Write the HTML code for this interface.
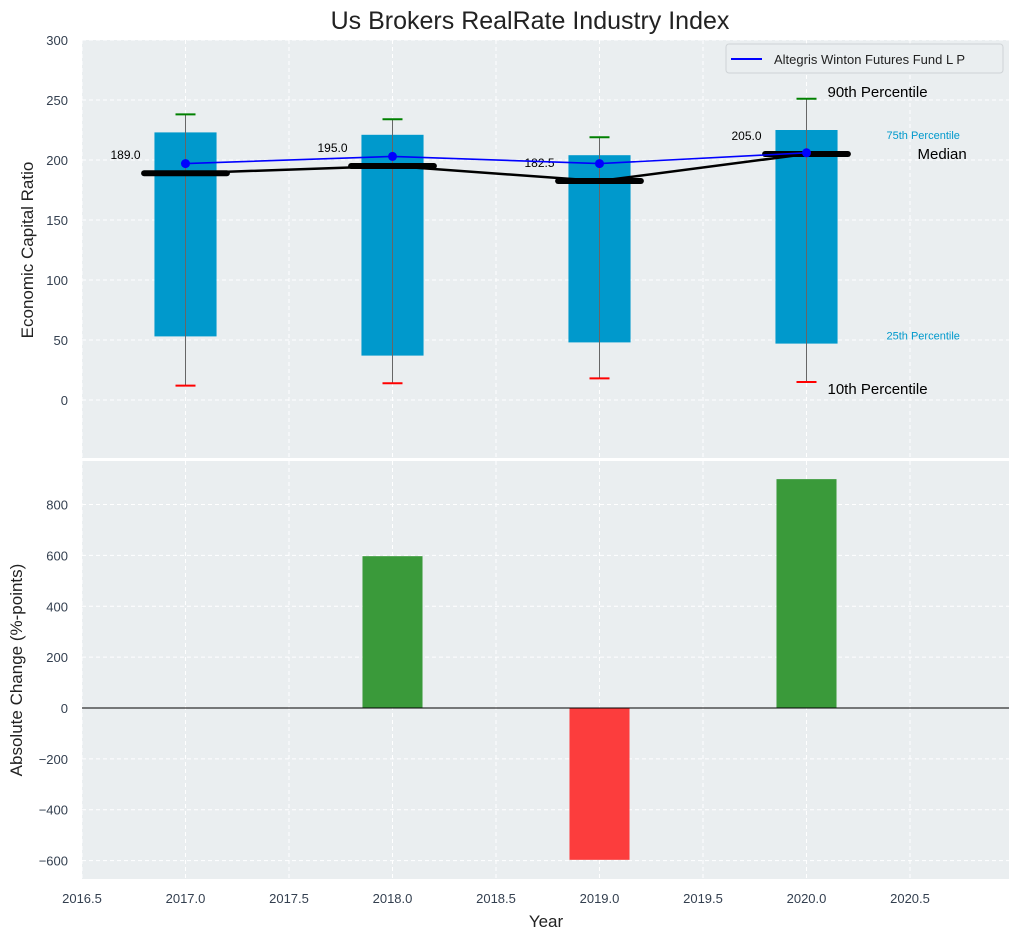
<!DOCTYPE html>
<html><head><meta charset="utf-8"><style>
html,body{margin:0;padding:0;background:#fff;}
svg{display:block;font-family:"Liberation Sans","DejaVu Sans",sans-serif;}
</style></head><body>
<svg id="c" width="1021" height="940" xmlns="http://www.w3.org/2000/svg"></svg>
<script>
const years=[2017,2018,2019,2020];
const p10=[12,14,18,15];
const p25=[53,37,48,47];
const median=[189,195,182.5,205];
const p75=[223,221,204,225];
const p90=[238,234,219,251];
const fund=[197,203,197,206];
const change=[0,597,-597,900];
const xTicks=[2016.5,2017,2017.5,2018,2018.5,2019,2019.5,2020,2020.5];
const yTopTicks=[0,50,100,150,200,250,300];
const yBotTicks=[-600,-400,-200,0,200,400,600,800];

const NS="http://www.w3.org/2000/svg";
const svg=document.getElementById('c');
function el(t,a,p){const e=document.createElementNS(NS,t);for(const k in a)e.setAttribute(k,a[k]);(p||svg).appendChild(e);return e;}
const L=82,R=1009;
const x=v=>L+(v-2016.5)*207;
const T0=40,T1=458; const yT=v=>400-v*1.2;
const B0=461,B1=879; const yB=v=>708-v*0.2543;
function txt(s,a,name){const t=el('text',a);t.textContent=s;return t;}

let r=el('rect',{x:L,y:T0,width:R-L,height:T1-T0,fill:'#eaeef0'});

r=el('rect',{x:L,y:B0,width:R-L,height:B1-B0,fill:'#eaeef0'});


xTicks.forEach(v=>{
  el('line',{x1:x(v),x2:x(v),y1:T0,y2:T1,stroke:'#fff','stroke-dasharray':'4,3','stroke-width':1});
  el('line',{x1:x(v),x2:x(v),y1:B0,y2:B1,stroke:'#fff','stroke-dasharray':'4,3','stroke-width':1});
  txt(v.toFixed(1),{x:x(v),y:903,'font-size':13,fill:'#333f4f','text-anchor':'middle'},'x-tick-label');
});
yTopTicks.forEach(v=>{
  el('line',{x1:L,x2:R,y1:yT(v),y2:yT(v),stroke:'#fff','stroke-dasharray':'4,3'});
  txt(String(v),{x:68,y:yT(v)+5,'font-size':13,fill:'#333f4f','text-anchor':'end'},'top-y-tick-label');
});
yBotTicks.forEach(v=>{
  el('line',{x1:L,x2:R,y1:yB(v),y2:yB(v),stroke:'#fff','stroke-dasharray':'4,3'});
  txt(String(v).replace('-','\u2212'),{x:68,y:yB(v)+5,'font-size':13,fill:'#333f4f','text-anchor':'end'},'bottom-y-tick-label');
});

years.forEach((yr,i)=>{
  const b=el('rect',{x:x(yr-0.15),y:yT(p75[i]),width:0.3*207,height:yT(p25[i])-yT(p75[i]),fill:'#0099cc'});
  
  el('line',{x1:x(yr),x2:x(yr),y1:yT(p90[i]),y2:yT(p10[i]),stroke:'#666','stroke-width':1});
  const g=el('line',{x1:x(yr)-10,x2:x(yr)+10,y1:yT(p90[i]),y2:yT(p90[i]),stroke:'green','stroke-width':2});
  
  const rd=el('line',{x1:x(yr)-10,x2:x(yr)+10,y1:yT(p10[i]),y2:yT(p10[i]),stroke:'red','stroke-width':2});
  
});
let pl=el('polyline',{points:years.map((yr,i)=>x(yr)+','+yT(median[i])).join(' '),fill:'none',stroke:'#000','stroke-width':2.5});

years.forEach((yr,i)=>{
  const m=el('line',{x1:x(yr-0.2),x2:x(yr+0.2),y1:yT(median[i]),y2:yT(median[i]),stroke:'#000','stroke-width':6,'stroke-linecap':'round'});
  
  txt(median[i].toFixed(1),{x:x(yr)-60,y:yT(median[i])-14,'font-size':12,fill:'#000','text-anchor':'middle'},'median-value-label');
});
pl=el('polyline',{points:years.map((yr,i)=>x(yr)+','+yT(fund[i])).join(' '),fill:'none',stroke:'#0000ff','stroke-width':1.6});

years.forEach((yr,i)=>{const c=el('circle',{cx:x(yr),cy:yT(fund[i]),r:4.5,fill:'#0000ff'});
  });

const li=3,lx=x(2020);
txt('90th Percentile',{x:lx+21,y:yT(p90[li])-2,'font-size':15,fill:'#000'},'p90-label');
txt('75th Percentile',{x:lx+80,y:yT(p75[li])+9,'font-size':11,fill:'#0099cc'},'p75-label');
txt('Median',{x:lx+111,y:yT(median[li])+5,'font-size':15,fill:'#000'},'median-label');
txt('25th Percentile',{x:lx+80,y:yT(p25[li])-4,'font-size':11,fill:'#0099cc'},'p25-label');
txt('10th Percentile',{x:lx+21,y:yT(p10[li])+12,'font-size':15,fill:'#000'},'p10-label');

const lg=el('g',{});
el('rect',{x:726,y:44,width:277,height:29,rx:3,fill:'#eaeef0',stroke:'#cfd3d6'},lg);
el('line',{x1:731,x2:762,y1:59,y2:59,stroke:'#0000ff','stroke-width':2},lg);
const lt=el('text',{x:774,y:64,'font-size':13,fill:'#222'},lg);lt.textContent='Altegris Winton Futures Fund L P';

years.forEach((yr,i)=>{
  const v=change[i];if(v===0)return;
  const b=el('rect',{x:x(yr-0.145),y:Math.min(yB(v),yB(0)),width:0.29*207,height:Math.abs(yB(v)-yB(0)),fill:v>0?'#3a9a3a':'#fc3d3d'});
  
});
el('line',{x1:L,x2:R,y1:yB(0),y2:yB(0),stroke:'#000','stroke-width':1});

txt('Us Brokers RealRate Industry Index',{x:530,y:29,'font-size':25,fill:'#222','text-anchor':'middle'},'chart-title');
txt('Economic Capital Ratio',{x:0,y:0,'font-size':17,fill:'#222','text-anchor':'middle',transform:'translate(33,250) rotate(-90)'},'top-y-axis-title');
txt('Absolute Change (%-points)',{x:0,y:0,'font-size':17,fill:'#222','text-anchor':'middle',transform:'translate(22,670) rotate(-90)'},'bottom-y-axis-title');
txt('Year',{x:546,y:927,'font-size':17,fill:'#222','text-anchor':'middle'},'x-axis-title');
</script>
</body></html>
